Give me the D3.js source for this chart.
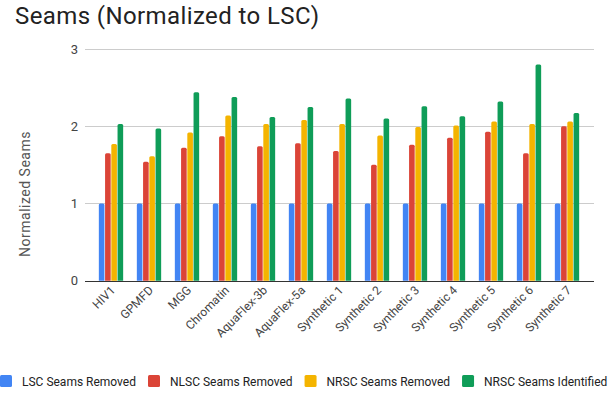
<!DOCTYPE html>
<html>
<head>
<meta charset="utf-8">
<script src="https://cdn.jsdelivr.net/npm/d3@7"></script>
<style>
  html, body { margin: 0; padding: 0; background: #fff; }
  svg { display: block; font-family: Roboto, "Liberation Sans", Arial, sans-serif; }
</style>
</head>
<body>
<svg id="chart" width="609" height="394"></svg>
<script>
// Datasets along the x axis
const categories = ["HIV1", "GPMFD", "MGG", "Chromatin", "AquaFlex-3b", "AquaFlex-5a",
  "Synthetic 1", "Synthetic 2", "Synthetic 3", "Synthetic 4", "Synthetic 5", "Synthetic 6", "Synthetic 7"];

// Series names and values (seam counts normalized to LSC)
const seriesNames = ["LSC Seams Removed", "NLSC Seams Removed", "NRSC Seams Removed", "NRSC Seams Identified"];
const lscRemoved  = [1, 1, 1, 1, 1, 1, 1, 1, 1, 1, 1, 1, 1];
const nlscRemoved = [1.65, 1.54, 1.72, 1.87, 1.74, 1.78, 1.68, 1.50, 1.76, 1.85, 1.93, 1.65, 2.00];
const nrscRemoved = [1.77, 1.61, 1.92, 2.14, 2.03, 2.08, 2.03, 1.88, 1.99, 2.01, 2.06, 2.03, 2.06];
const nrscIdentified = [2.03, 1.97, 2.44, 2.38, 2.12, 2.25, 2.36, 2.10, 2.26, 2.13, 2.32, 2.80, 2.17];
const seriesValues = [lscRemoved, nlscRemoved, nrscRemoved, nrscIdentified];

const yTicks = [0, 1, 2, 3];
const colors = ["#4285F4", "#DB4437", "#F4B400", "#0F9D58"];

const svg = d3.select("#chart");

// Title
svg.append("text")
  .attr("x", 15).attr("y", 24)
  .attr("font-size", 24)
  .attr("letter-spacing", 0.4)
  .attr("fill", "#222")
  .text("Seams (Normalized to LSC)");

// Scales
const gridLeft = 85, gridRight = 594;
const x0 = d3.scaleBand().domain(categories).range([92, 586]).paddingInner(0.36).paddingOuter(0.18);
const x1 = d3.scaleBand().domain(d3.range(seriesNames.length)).range([0, x0.bandwidth()]).paddingInner(0.1);
const y = d3.scaleLinear().domain([0, 3]).range([280.7, 49]);

// Gridlines
svg.append("g").selectAll("line")
  .data(yTicks.filter(t => t !== 0))
  .join("line")
  .attr("x1", gridLeft).attr("x2", gridRight)
  .attr("y1", d => Math.round(y(d)) + 0.5).attr("y2", d => Math.round(y(d)) + 0.5)
  .attr("stroke", "#cccccc").attr("stroke-width", 1);

// Y axis tick labels
svg.append("g").selectAll("text")
  .data(yTicks)
  .join("text")
  .attr("x", 78).attr("y", d => y(d) + 4.5)
  .attr("text-anchor", "end")
  .attr("font-size", 13)
  .attr("fill", "#444")
  .text(d => d);

// Y axis title
svg.append("text")
  .attr("transform", "translate(30,194) rotate(-90)")
  .attr("text-anchor", "middle")
  .attr("font-size", 14)
  .attr("letter-spacing", 0.5)
  .attr("fill", "#555")
  .text("Normalized Seams");

// Bars with slightly rounded tops
function barPath(x, w, yTop, yBase) {
  const r = Math.min(1.5, w / 2, (yBase - yTop));
  return `M${x},${yBase}V${yTop + r}Q${x},${yTop} ${x + r},${yTop}H${x + w - r}Q${x + w},${yTop} ${x + w},${yTop + r}V${yBase}Z`;
}

const groups = svg.append("g").selectAll("g")
  .data(categories)
  .join("g")
  .attr("transform", d => `translate(${x0(d)},0)`);

groups.selectAll("path")
  .data((d, i) => seriesValues.map((vals, s) => ({ s, v: vals[i] })))
  .join("path")
  .attr("d", d => barPath(x1(d.s), x1.bandwidth(), y(d.v), y(0)))
  .attr("fill", d => colors[d.s]);

// Baseline
svg.append("line")
  .attr("x1", gridLeft).attr("x2", gridRight)
  .attr("y1", Math.round(y(0)) + 0.5).attr("y2", Math.round(y(0)) + 0.5)
  .attr("stroke", "#333").attr("stroke-width", 1.2);

// X axis labels, rotated
svg.append("g").selectAll("text")
  .data(categories)
  .join("text")
  .attr("transform", d => `translate(${x0(d) + x0.bandwidth() / 2 + 5},${291}) rotate(-45)`)
  .attr("text-anchor", "end")
  .attr("font-size", 12)
  .attr("fill", "#444")
  .text(d => d);

// Legend
const legend = svg.append("g").attr("transform", "translate(0,381)");
let lx = 0;
seriesNames.forEach((name, i) => {
  legend.append("rect")
    .attr("x", lx).attr("y", -6)
    .attr("width", 12).attr("height", 12)
    .attr("rx", 1.5)
    .attr("fill", colors[i]);
  const t = legend.append("text")
    .attr("x", lx + 22).attr("y", 4.5)
    .attr("font-size", 12)
    .attr("fill", "#222")
    .text(name);
  lx += 22 + t.node().getComputedTextLength() + 12;
});
</script>
</body>
</html>
